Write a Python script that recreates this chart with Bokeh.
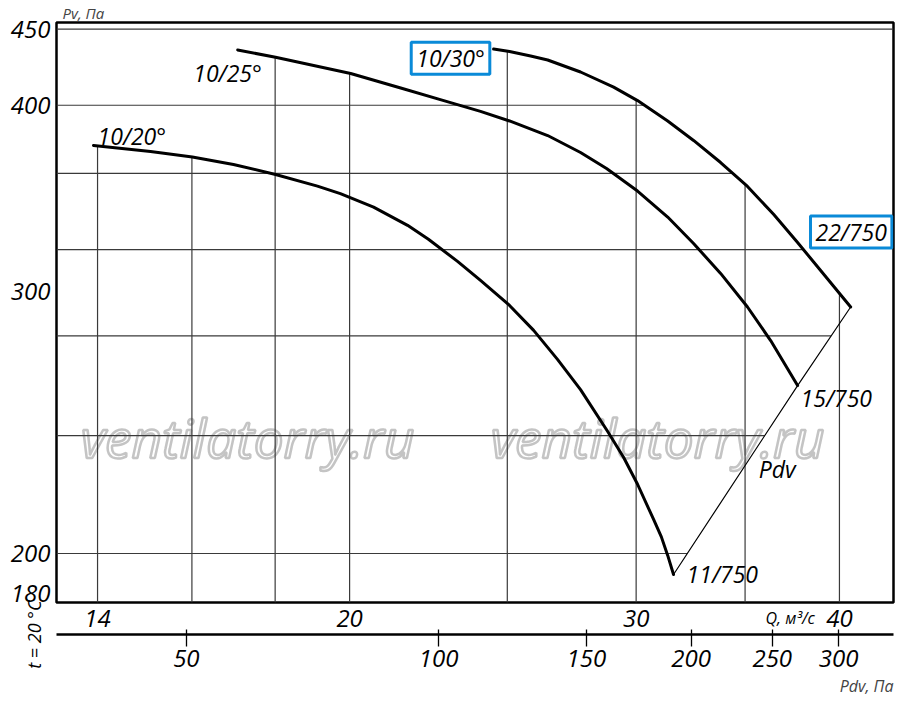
import numpy as np
from bokeh.plotting import figure
from bokeh.models import Range1d, LogScale, LogAxis, FixedTicker, Label, Title, BasicTickFormatter
from bokeh.core.properties import value
from bokeh.embed import file_html
from bokeh.resources import INLINE

FONT = "Open Sans"

# fan curves: air flow Q (m3/s) against static pressure Pv (Pa)
q_1020 = [13.92, 15.09, 16.01, 16.97, 18.01, 19.11, 19.74, 20.69, 21.71, 22.36, 23.30,
          24.07, 25.08, 25.95, 26.84, 27.73, 28.81, 29.47, 30.06, 30.75, 31.09, 31.37, 31.63]
pv_1020 = [375.9, 372.4, 369.2, 365.0, 359.4, 353.0, 348.9, 341.7, 332.2, 325.1, 314.2,
           305.1, 293.5, 282.4, 270.0, 257.7, 241.6, 232.1, 222.6, 210.8, 205.2, 199.4, 193.6]

q_1025 = [17.07, 18.01, 20.03, 21.50, 22.85, 24.07, 25.08, 26.47, 27.73, 28.77, 30.06,
          31.37, 32.54, 33.81, 35.12, 36.29, 37.70]
pv_1025 = [435.7, 430.8, 420.1, 410.8, 402.9, 396.2, 390.4, 381.7, 371.8, 362.7, 350.3,
           336.5, 323.0, 308.4, 292.8, 278.0, 259.3]

q_1030 = [24.52, 25.08, 25.84, 26.47, 27.73, 29.06, 30.06, 31.37, 32.54, 33.81, 35.12,
          36.44, 37.70, 38.95, 40.64]
pv_1030 = [436.3, 434.7, 431.6, 429.0, 421.1, 411.4, 402.9, 390.4, 378.8, 366.1, 352.8,
           337.9, 323.5, 309.8, 292.8]

curves = [(q_1020, pv_1020), (q_1025, pv_1025), (q_1030, pv_1030)]

q_grid = [14, 16, 18, 20, 25, 30, 35, 40]
pv_grid = [200, 240, 280, 320, 360, 400, 450]
q_ticks = [14, 20, 30, 40]
pv_ticks = [188, 200, 300, 400, 450]
pdv_ticks = [50, 100, 150, 200, 250, 300]

# Pdv line joins the ends of the curves
pdv_q = [q_1020[-1], q_1025[-1], q_1030[-1]]
pdv_pv = [pv_1020[-1], pv_1025[-1], pv_1030[-1]]

x_start, x_end = 13.21, 43.18
y_start, y_end = 185.4, 454.6

p = figure(frame_width=837, frame_height=580,
           x_axis_type="log", y_axis_type="log",
           x_range=Range1d(x_start, x_end), y_range=Range1d(y_start, y_end),
           output_backend="svg", toolbar_location=None,
           min_border_left=56, min_border_top=22, min_border_right=5, min_border_bottom=104,
           outline_line_color="black", outline_line_width=2.5)
p.grid.visible = False

p.add_layout(Title(text="Pv, Па", align="left", offset=6, standoff=0, text_font=FONT,
                   text_font_style="italic", text_font_size="15px"), "above")


def style_axis(ax):
    ax.major_label_text_font = FONT
    ax.major_label_text_font_style = "italic"
    ax.major_label_text_font_size = "24px"
    ax.major_label_text_color = "black"
    ax.minor_tick_line_color = None
    ax.formatter = BasicTickFormatter()


yax = p.yaxis[0]
style_axis(yax)
yax.ticker = FixedTicker(ticks=pv_ticks)
yax.major_label_overrides = {188: "180"}
yax.axis_line_color = None
yax.major_tick_line_color = None
yax.major_tick_in = 0
yax.major_tick_out = 0
yax.major_label_standoff = 6

xax = p.xaxis[0]
style_axis(xax)
xax.ticker = FixedTicker(ticks=q_ticks)
xax.axis_line_color = None
xax.major_tick_line_color = None
xax.major_tick_in = 0
xax.major_tick_out = 0
xax.major_label_standoff = 7

# blank axis, only keeps a little room above the Pdv scale
gap = LogAxis(ticker=FixedTicker(ticks=[20]), major_label_overrides={20: ""},
              axis_line_color=None, major_tick_line_color=None,
              major_tick_in=0, major_tick_out=5, major_label_standoff=0,
              major_label_text_font_size="1px", minor_tick_line_color=None)
p.add_layout(gap, "below")

p.extra_x_ranges = {"pdv": Range1d(35.0, 348.8)}
p.extra_x_scales = {"pdv": LogScale()}
pax = LogAxis(x_range_name="pdv", ticker=FixedTicker(ticks=pdv_ticks))
style_axis(pax)
pax.axis_line_width = 2.5
pax.major_tick_line_width = 1.3
pax.major_tick_in = 5
pax.major_tick_out = 12
pax.major_label_standoff = 3
p.add_layout(pax, "below")

p.add_layout(Title(text="Pdv, Па", align="right", standoff=7, text_font=FONT,
                   text_font_style="italic", text_font_size="16px"), "below")


# grid lines stop at the outer curve
def top_at(q):
    vals = []
    for qs, ps in curves:
        if qs[0] <= q <= qs[-1]:
            vals.append(10 ** np.interp(np.log10(q), np.log10(qs), np.log10(ps)))
    return max(vals)


i_peak = int(np.argmax(pv_1030))
bq = q_1030[i_peak:] + pdv_q[::-1][1:]
bp = pv_1030[i_peak:] + pdv_pv[::-1][1:]


def right_at(pv):
    if pv > max(bp):
        return x_end
    return 10 ** np.interp(np.log10(pv), np.log10(bp[::-1]), np.log10(bq[::-1]))


p.segment(x0=q_grid, y0=[y_start] * len(q_grid), x1=q_grid, y1=[top_at(q) for q in q_grid],
          line_color="#3a3a3a", line_width=1.2)
p.segment(x0=[x_start] * len(pv_grid), y0=pv_grid, x1=[right_at(v) for v in pv_grid], y1=pv_grid,
          line_color="#3a3a3a", line_width=1.2)

for qs, ps in curves:
    p.line(qs, ps, line_color="black", line_width=3, line_join="round", line_cap="round")
p.line(pdv_q, pdv_pv, line_color="black", line_width=1.2)

for wx in [13.67, 24.42]:
    p.add_layout(Label(x=wx, y=239.3, text="ventilatorry.ru", text_font=FONT, text_font_style="italic",
                       text_font_size="53px", text_color="white", text_outline_color="#c4c4c4",
                       text_baseline="middle", level="underlay"))


def label(x, y, text, size="23px", align="left", boxed=False):
    kw = dict(x=x, y=y, text=text, text_font=FONT, text_font_style="italic",
              text_font_size=size, text_color="black", text_align=align,
              text_baseline="middle")
    if boxed:
        kw.update(border_line_color="#0a8ad8", border_line_width=3,
                  background_fill_color="white", padding=(5, 0))
    p.add_layout(Label(**kw))


label(14.0, 381.7, "10/20°")
label(16.03, 420.7, "10/25°")
label(23.07, 430.2, "10/30°", align="center", boxed=True)
label(40.67, 328.8, "22/750", align="center", boxed=True)
label(37.86, 254.2, "15/750")
label(32.22, 193.9, "11/750")
label(35.68, 227.8, "Pdv")

# texts that sit outside the frame
p.text(x=[36.03], y=[180.9], text=["Q, м³/с"], text_font=value(FONT), text_font_style="italic",
       text_font_size="16px", text_color="black", text_baseline="middle", level="annotation")
p.text(x=[12.79], y=[176.4], text=["t = 20 °C"], angle=np.pi / 2, text_font=value(FONT),
       text_font_style="italic", text_font_size="18px", text_color="black",
       text_align="center", text_baseline="middle", level="annotation")

open("out.html", "w").write(file_html(p, INLINE))
